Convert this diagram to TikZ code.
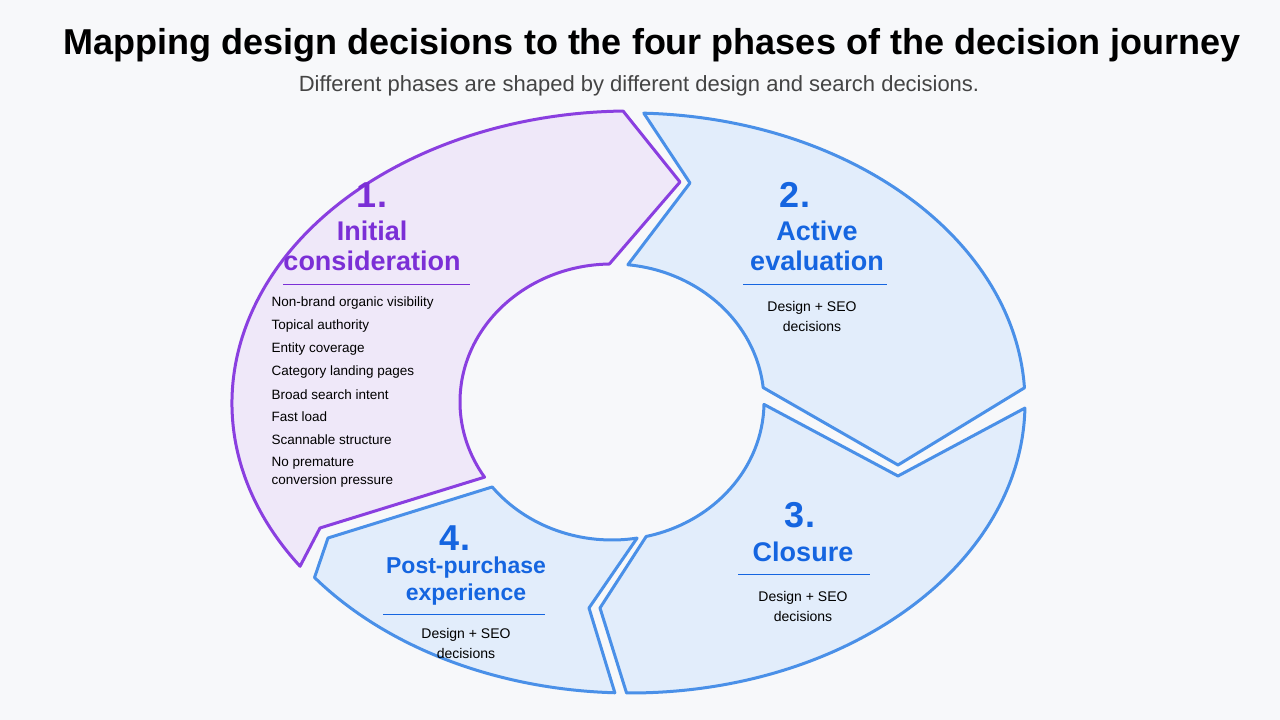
\documentclass[tikz,border=0pt]{standalone}
\usepackage{fontspec}
\setmainfont{Liberation Sans}
\usetikzlibrary{calc}
\definecolor{bg}{HTML}{F7F8FA}
\definecolor{pfill}{HTML}{EFE8F9}
\definecolor{pline}{HTML}{8A3FE0}
\definecolor{ptext}{HTML}{7B2FD6}
\definecolor{bfill}{HTML}{E2EDFB}
\definecolor{bline}{HTML}{4A90E8}
\definecolor{btext}{HTML}{1565E0}
\definecolor{sub}{HTML}{444444}
\begin{document}
\begin{tikzpicture}[x=1pt,y=1pt,
  seg/.style={line width=3pt,line join=round},
  num/.style={font=\fontsize{36}{40}\selectfont\bfseries},
  head/.style={font=\fontsize{27}{30}\selectfont\bfseries,align=center},
  head4/.style={font=\fontsize{23}{27}\selectfont\bfseries,align=center},
  body/.style={font=\fontsize{14}{20}\selectfont,align=center},
  item/.style={font=\fontsize{13.5}{16}\selectfont,anchor=west,align=left}]
\fill[bg] (0,0) rectangle (1280,720);
\useasboundingbox (0,0) rectangle (1280,720);
\coordinate (O) at (630,317);
\coordinate (I) at (612,318);
% segment 1
\filldraw[seg,fill=pfill,draw=pline] ($(O)+(214:398 and 292)$) arc[start angle=214,end angle=91,x radius=398,y radius=292]
  -- (680,538) -- ($(I)+(91:152 and 138)$) arc[start angle=91,end angle=213,x radius=152,y radius=138]
  -- (320,192) -- cycle;
% segment 2
\filldraw[seg,fill=bfill,draw=bline] ($(O)+(88:395 and 290)$) arc[start angle=88,end angle=3,x radius=395,y radius=290]
  -- (898,255) -- ($(I)+(6:152 and 138)$) arc[start angle=6,end angle=84,x radius=152,y radius=138]
  -- (690,537) -- cycle;
% segment 3
\filldraw[seg,fill=bfill,draw=bline] ($(O)+(-1:395 and 290)$) arc[start angle=-1,end angle=-90.5,x radius=395,y radius=290]
  -- (600,112) -- ($(I)+(-77:152 and 138)$) arc[start angle=-77,end angle=-1,x radius=152,y radius=138]
  -- (898,244) -- cycle;
% segment 4
\filldraw[seg,fill=bfill,draw=bline] ($(O)+(-92.2:395 and 290)$) arc[start angle=-92.2,end angle=-143,x radius=395,y radius=290]
  -- (328,182) -- ($(I)+(-142:152 and 138)$) arc[start angle=-142,end angle=-80.5,x radius=152,y radius=138]
  -- (589,112) -- cycle;
% titles
\node[font=\fontsize{36}{40}\selectfont\bfseries] (title) at (652,675) {Mapping design decisions to the four phases of the decision journey};
\node[font=\fontsize{22}{26}\selectfont,text=sub] (subtitle) at (639,634) {Different phases are shaped by different design and search decisions.};
% phase 1
\node[num,text=ptext] (n1) at (372,525) {1.};
\node[head,text=ptext] (h1) at (372,474) {Initial\\consideration};
\draw[ptext,line width=1pt] (283,435) -- (470,435);
\node[item] (l1) at (268,417) {Non-brand organic visibility};
\node[item] (l2) at (268,394) {Topical authority};
\node[item] (l3) at (268,371) {Entity coverage};
\node[item] (l4) at (268,348) {Category landing pages};
\node[item] (l5) at (268,325) {Broad search intent};
\node[item] (l6) at (268,303) {Fast load};
\node[item] (l7) at (268,280) {Scannable structure};
\node[item,font=\fontsize{13.5}{18}\selectfont] (l8) at (268,248) {No premature\\conversion pressure};
% phase 2
\node[num,text=btext] (n2) at (795,525) {2.};
\node[head,text=btext] (h2) at (817,474) {Active\\evaluation};
\draw[btext,line width=1pt] (743,435) -- (887,435);
\node[body] (b2) at (812,403) {Design + SEO\\decisions};
% phase 3
\node[num,text=btext] (n3) at (800,205) {3.};
\node[head,text=btext] (h3) at (803,168) {Closure};
\draw[btext,line width=1pt] (738,145) -- (870,145);
\node[body] (b3) at (803,114) {Design + SEO\\decisions};
% phase 4
\node[num,text=btext] (n4) at (455,182) {4.};
\node[head4,text=btext] (h4) at (466,139) {Post-purchase\\experience};
\draw[btext,line width=1pt] (383,105) -- (545,105);
\node[body] (b4) at (466,77) {Design + SEO\\decisions};
\end{tikzpicture}
\end{document}
